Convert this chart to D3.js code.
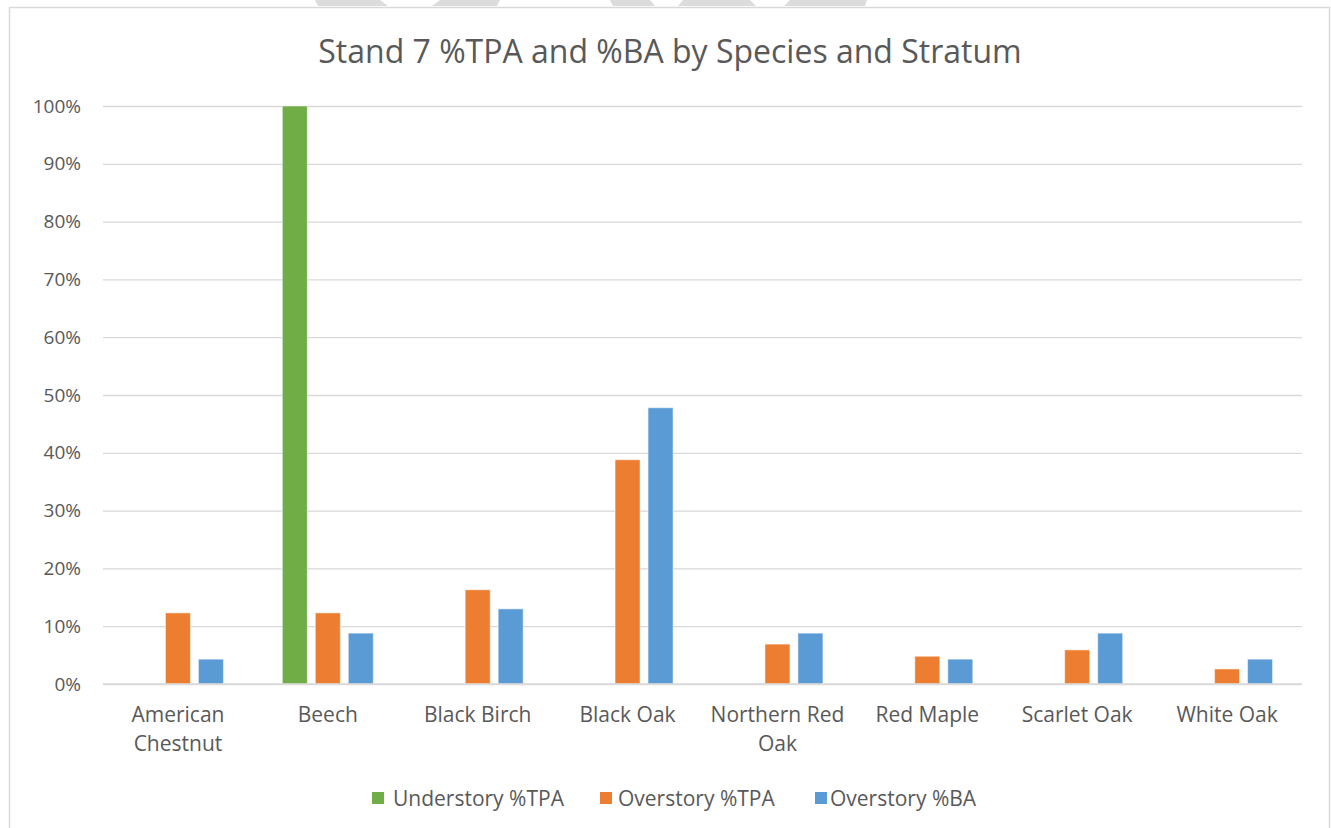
<!DOCTYPE html>
<html>
<head>
<meta charset="utf-8">
<script src="https://cdn.jsdelivr.net/npm/d3@7/dist/d3.min.js"></script>
<style>
  html, body { margin: 0; padding: 0; background: #fff; }
  svg { display: block; font-family: "Open Sans", "Noto Sans", sans-serif; }
</style>
</head>
<body>
<svg id="chart" width="1331" height="828"></svg>
<script>
// species (x categories)
const species = ['American Chestnut', 'Beech', 'Black Birch', 'Black Oak',
  'Northern Red Oak', 'Red Maple', 'Scarlet Oak', 'White Oak'];

// series (fractions)
const seriesNames = ['Understory %TPA', 'Overstory %TPA', 'Overstory %BA'];
const understoryTPA = [0, 1.00, 0, 0, 0, 0, 0, 0];
const overstoryTPA = [0.123, 0.123, 0.163, 0.388, 0.069, 0.048, 0.059, 0.026];
const overstoryBA = [0.043, 0.088, 0.130, 0.478, 0.088, 0.043, 0.088, 0.043];
const seriesColors = ['#70ad47', '#ed7d31', '#5b9bd5'];

const yTicks = [0, 0.1, 0.2, 0.3, 0.4, 0.5, 0.6, 0.7, 0.8, 0.9, 1.0];

const values = [understoryTPA, overstoryTPA, overstoryBA];

const svg = d3.select('#chart');
const textColor = '#595959';

// watermark scraps above the frame
const wm = svg.append('g').attr('fill', '#dcdcdc');
[
  [[315, 0], [500, 0], [497, 6], [318, 6]],
  [[610, 0], [867, 0], [865, 6], [613, 6]]
].forEach(p => wm.append('polygon').attr('points', p.join(' ')));
wm.append('polygon').attr('points', '380,0 440,0 432,6 388,6').attr('fill', '#fff');
wm.append('polygon').attr('points', '650,0 683,0 678,6 655,6').attr('fill', '#fff');
wm.append('polygon').attr('points', '750,0 790,0 784,6 756,6').attr('fill', '#fff');

// chart frame
svg.append('rect')
  .attr('x', 9.5).attr('y', 7.5).attr('width', 1320).attr('height', 830)
  .attr('fill', '#fff').attr('stroke', '#d9d9d9').attr('stroke-width', 1.5);

const plot = { left: 103, right: 1302, top: 106, bottom: 684 };

const x0 = d3.scaleBand()
  .domain(species)
  .range([plot.left, plot.right])
  .paddingInner(0.393)
  .paddingOuter(0.1965);

const x1 = d3.scaleBand()
  .domain(seriesNames)
  .range([0, x0.bandwidth()])
  .paddingInner(0.242);

const y = d3.scaleLinear().domain([0, 1]).range([plot.bottom, plot.top]);

// title
svg.append('text')
  .attr('x', 670).attr('y', 63)
  .attr('text-anchor', 'middle')
  .attr('fill', textColor)
  .attr('font-size', 32)
  .text('Stand 7 %TPA and %BA by Species and Stratum');

// gridlines + y labels
const yAxis = d3.axisLeft(y)
  .tickValues(yTicks)
  .tickFormat(d3.format('.0%'))
  .tickSize(-(plot.right - plot.left))
  .tickPadding(22);

const gy = svg.append('g')
  .attr('transform', `translate(${plot.left},0)`)
  .call(yAxis);
gy.select('.domain').remove();
gy.selectAll('.tick line').attr('stroke', '#d9d9d9').attr('stroke-width', 1.3);
gy.selectAll('.tick text')
  .attr('fill', textColor)
  .attr('font-size', 19)
  .attr('font-family', '"Open Sans", sans-serif');

// bars
const groups = svg.append('g').selectAll('g')
  .data(species)
  .join('g')
  .attr('transform', d => `translate(${x0(d)},0)`);

groups.selectAll('rect')
  .data((d, i) => seriesNames.map((s, k) => ({ s, v: values[k][i], c: seriesColors[k] }))
    .filter(e => e.v > 0))
  .join('rect')
  .attr('x', d => x1(d.s))
  .attr('width', x1.bandwidth())
  .attr('y', d => y(d.v))
  .attr('height', d => y(0) - y(d.v))
  .attr('fill', d => d.c)
  .attr('stroke', '#fff')
  .attr('stroke-opacity', 0.5)
  .attr('stroke-width', 1);

// x axis baseline + category labels
const xAxis = d3.axisBottom(x0).tickSize(0).tickPadding(0);
const gx = svg.append('g')
  .attr('transform', `translate(0,${plot.bottom})`)
  .call(xAxis);
gx.select('.domain').attr('stroke', '#d9d9d9').attr('stroke-width', 1.5)
  .attr('d', `M${plot.left},0H${plot.right}`);
gx.selectAll('.tick text')
  .attr('fill', textColor)
  .attr('font-size', 21)
  .attr('font-family', '"Open Sans", sans-serif')
  .attr('dy', null)
  .each(function (d) {
    const t = d3.select(this);
    const words = d.split(' ');
    t.text(null);
    let lines = [[]];
    const probe = t.append('tspan');
    words.forEach(w => {
      const cur = lines[lines.length - 1];
      probe.text([...cur, w].join(' '));
      if (cur.length && probe.node().getComputedTextLength() > 142) lines.push([w]);
      else cur.push(w);
    });
    probe.remove();
    lines.forEach((ln, i) => {
      t.append('tspan')
        .attr('x', 0)
        .attr('y', 38 + i * 28.5)
        .text(ln.join(' '));
    });
  });

// legend
const legendItems = seriesNames.map((s, k) => ({ s, c: seriesColors[k] }));
const legendSq = [372, 600, 815];
const legendTx = [393, 618, 830];
const leg = svg.append('g');
legendItems.forEach((d, i) => {
  leg.append('rect')
    .attr('x', legendSq[i]).attr('y', 792)
    .attr('width', 12).attr('height', 12)
    .attr('fill', d.c);
  leg.append('text')
    .attr('x', legendTx[i]).attr('y', 806)
    .attr('fill', textColor)
    .attr('font-size', 21)
    .text(d.s);
});
</script>
</body>
</html>
